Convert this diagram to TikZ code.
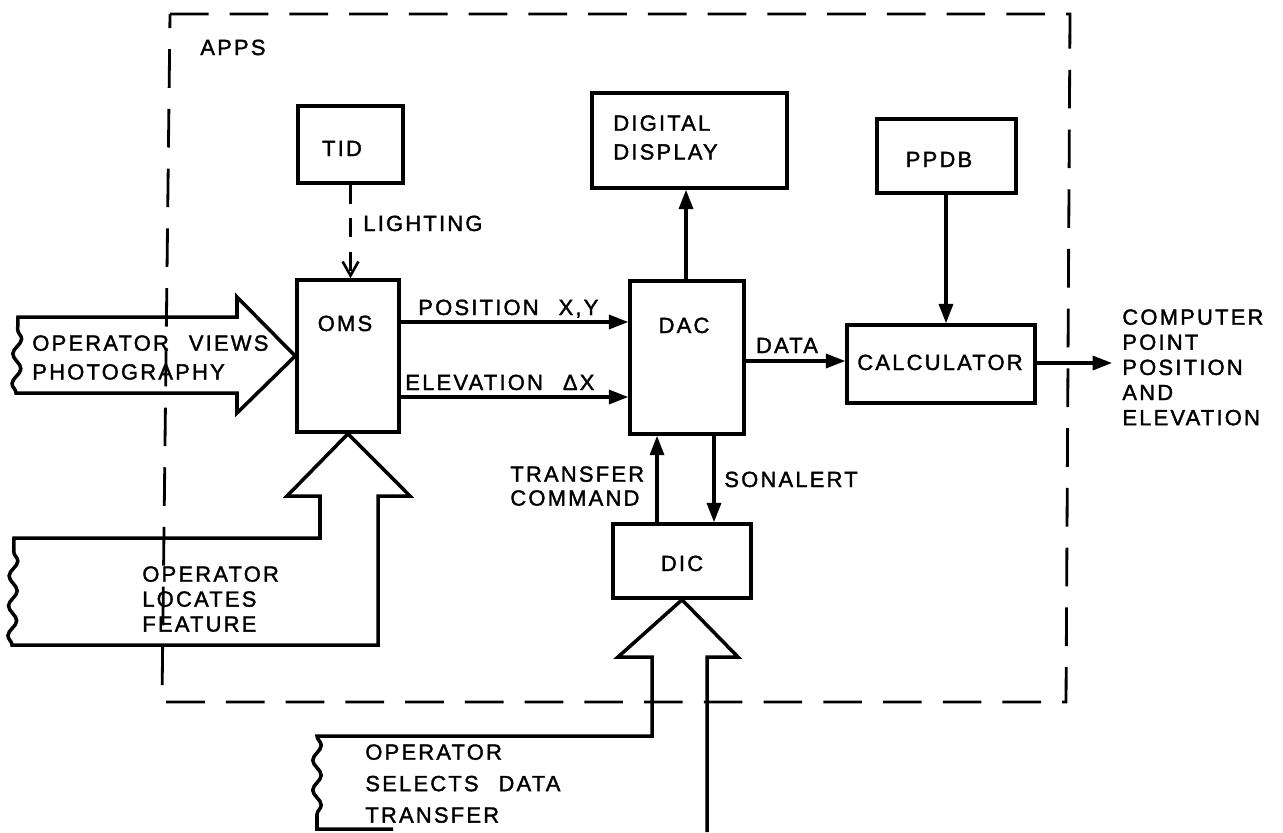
\documentclass[tikz,border=0pt]{standalone}
\usepackage{fontspec}
\setmainfont{Liberation Sans}[LetterSpace=10, WordSpace=2.4, FakeBold=1.6]
\usetikzlibrary{fit, arrows.meta, decorations.pathmorphing}

\tikzset{
  lbl/.style={inner sep=0pt, font=\fontsize{12.5}{14.5}\selectfont},
  lines/.style={inner sep=0pt, align=left, anchor=north west,
    font=\fontsize{12.5}{#1}\selectfont},
  box/.style={draw, line width=2pt, inner sep=0pt},
  arr/.style={line width=1.8pt, -{Triangle[length=11pt, width=8pt]}},
  light/.style={line width=1.6pt, dash pattern=on 11pt off 8pt,
    -{Straight Barb[length=8pt, width=9pt, line width=1.5pt]}},
  frame/.style={line width=1.6pt, dash pattern=on 22pt off 12pt},
  bigarrow/.style={line width=2pt, line join=miter},
  torn/.style={decoration={snake, amplitude=2.4pt, segment length=17pt}}
}

\begin{document}
\begin{tikzpicture}[x=0.02cm, y=-0.02cm]
  \useasboundingbox (0,0) rectangle (1283,832);
  \clip (0,0) rectangle (1283,832);

  % system boundary
  \draw[frame] (170,14) -- (1070,14) -- (1066,702) -- (162,702) -- cycle;
  \node[lbl, anchor=base west] (tApps) at (200,55) {APPS};

  % blocks
  \node[box, fit={(298,106) (403,183)}] (tid) {};
  \node[box, fit={(297,280) (399,432)}] (oms) {};
  \node[box, fit={(630,281) (744,434)}] (dac) {};
  \node[box, fit={(592,93) (787,188)}] (disp) {};
  \node[box, fit={(877,119) (1016,193)}] (ppdb) {};
  \node[box, fit={(847,325) (1035,403)}] (calc) {};
  \node[box, fit={(613,524) (751,598)}] (dic) {};

  % block titles
  \node[lbl, anchor=base] (tTid) at (342,156) {TID};
  \node[lbl, anchor=base] (tOms) at (345,331) {OMS};
  \node[lbl, anchor=base] (tDac) at (684,333) {DAC};
  \node[lines=16.4pt] (tDisp) at (613,115) {DIGITAL\\DISPLAY};
  \node[lbl, anchor=base] (tPpdb) at (939,167) {PPDB};
  \node[lbl, anchor=base] (tCalc) at (940,370) {CALCULATOR};
  \node[lbl, anchor=base] (tDic) at (682,571) {DIC};

  % routing levels
  \coordinate (yPos) at (0,322);
  \coordinate (yElev) at (0,397);
  \coordinate (yData) at (0,361);
  \coordinate (xDisp) at (686,0);
  \coordinate (xPpdb) at (946,0);
  \coordinate (xXfer) at (657,0);
  \coordinate (xSon) at (714,0);
  \coordinate (out) at (1112,363);

  % signal flow
  \draw[light] (tid.south) -- (tid.south |- oms.north);
  \draw[arr] (oms.east |- yPos) -- (dac.west |- yPos);
  \draw[arr] (oms.east |- yElev) -- (dac.west |- yElev);
  \draw[arr] (xDisp |- dac.north) -- (xDisp |- disp.south);
  \draw[arr] (dac.east |- yData) -- (calc.west |- yData);
  \draw[arr] (xPpdb |- ppdb.south) -- (xPpdb |- calc.north);
  \draw[arr] (calc.east |- out) -- (out);
  \draw[arr] (xXfer |- dic.north) -- (xXfer |- dac.south);
  \draw[arr] (xSon |- dac.south) -- (xSon |- dic.north);

  % signal labels
  \node[lbl, anchor=base west] (tLight) at (363,231) {LIGHTING};
  \node[lbl, anchor=base west] (tPos) at (418,315) {POSITION X,Y};
  \node[lbl, anchor=base west] (tElev) at (405,390) {ELEVATION ΔX};
  \node[lbl, anchor=base] (tData) at (787,353) {DATA};
  \node[lbl, anchor=base west] (tSon) at (724,487) {SONALERT};
  \node[lines=13.6pt] (tXfer) at (510,466) {TRANSFER\\COMMAND};
  \node[lines=14.3pt] (tOut) at (1122,309)
    {COMPUTER\\POINT\\POSITION\\AND\\ELEVATION};

  % operator actions
  \draw[bigarrow] (237,317) -- (237,297) -- (oms.west) -- (237,413)
    -- (237,393) -- (16,393) decorate[torn]{-- (18,317)} -- cycle;
  \node[lines=16.4pt] (tViews) at (32,335) {OPERATOR VIEWS\\PHOTOGRAPHY};

  \draw[bigarrow] (oms.south) -- (410,496) -- (378,496) -- (378,645)
    -- (12,645) decorate[torn]{-- (14,538)} -- (320,538) -- (320,496)
    -- (287,496) -- cycle;
  \node[lines=14.2pt] (tLocates) at (142,566) {OPERATOR\\LOCATES\\FEATURE};

  \draw[bigarrow] (707,832) -- (707,657) -- (738,657) -- (dic.south)
    -- (618,657) -- (652,657) -- (652,736) -- (317,736)
    decorate[torn]{-- (317,829)} -- (393,829);
  \node[lines=17.9pt] (tSelects) at (365,744)
    {OPERATOR\\SELECTS DATA\\TRANSFER};
\end{tikzpicture}
\end{document}
